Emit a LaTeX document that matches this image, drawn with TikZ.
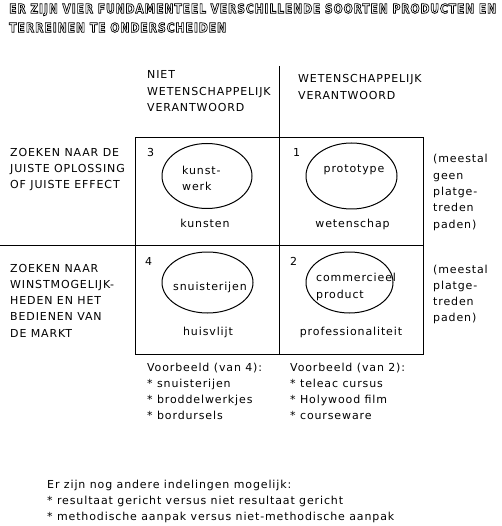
\documentclass[tikz,border=0pt]{standalone}
\usepackage{fontspec}
\setmainfont{DejaVu Sans}[LetterSpace=8]
\newfontfamily\titlefont{DejaVu Sans}[LetterSpace=8]
\usepackage{graphicx}
\usetikzlibrary{shapes.geometric}
\newcommand\outlinetext[1]{\special{pdf:literal direct 1 Tr 0.6 w}#1\special{pdf:literal direct 0 Tr}}
\tikzset{
  txt/.style={anchor=base west, inner sep=0pt, align=left, font=\fontsize{11}{16.3}\selectfont},
  ctr/.style={anchor=base, inner sep=0pt, font=\fontsize{11}{16.3}\selectfont},
  ell/.style={draw, ellipse, line width=1pt, inner sep=0pt},
  grid/.style={line width=1pt},
  ttl/.style={anchor=north west, inner sep=0pt}
}
\begin{document}
\begin{tikzpicture}[x=1pt,y=-1pt]
\fill[white] (0,0) rectangle (501,526);
\useasboundingbox (0,0) rectangle (501,526);
% title
\node[ttl] (t1) at (9,3.5) {\resizebox{487pt}{9.5pt}{\titlefont\bfseries\outlinetext{ER ZIJN VIER FUNDAMENTEEL VERSCHILLENDE SOORTEN PRODUCTEN EN}}};
\node[ttl] (t2) at (9,22.5) {\resizebox{217pt}{9.5pt}{\titlefont\bfseries\outlinetext{TERREINEN TE ONDERSCHEIDEN}}};
% grid
\coordinate (tl) at (135,138);
\coordinate (br) at (423,354);
\coordinate (vt) at (279,66);
\coordinate (vb) at (279,354);
\coordinate (hl) at (0,245);
\coordinate (hr) at (423,245);
\draw[grid] (tl) rectangle (br);
\draw[grid] (vt) -- (vb);
\draw[grid] (hl) -- (hr);
% headers (anchor = baseline of last line)
\node[txt] (h1) at (147,111.5) {NIET\\WETENSCHAPPELIJK\\VERANTWOORD};
\node[txt] (h2) at (298,99.3) {WETENSCHAPPELIJK\\VERANTWOORD};
% row labels
\node[txt] (r1) at (10,189) {ZOEKEN NAAR DE\\JUISTE OPLOSSING\\OF JUISTE EFFECT};
\node[txt] (r2) at (10,337.2) {ZOEKEN NAAR\\WINSTMOGELIJK-\\HEDEN EN HET\\BEDIENEN VAN\\DE MARKT};
% right remarks
\node[txt] (m1) at (433,228.2) {(meestal\\geen\\platge-\\treden\\paden)};
\node[txt] (m2) at (433,321.9) {(meestal\\platge-\\treden\\paden)};
% numbers
\node[txt] (n3) at (147,157) {3};
\node[txt] (n1) at (293,157) {1};
\node[txt] (n4) at (145,265) {4};
\node[txt] (n2) at (290,265) {2};
% ellipses
\node[ell, minimum width=90pt, minimum height=65pt] (e3) at (207,176) {};
\node[ell, minimum width=91pt, minimum height=66pt] (e1) at (351.5,176) {};
\node[ell, minimum width=91pt, minimum height=61pt] (e4) at (207.5,282.5) {};
\node[ell, minimum width=87pt, minimum height=61pt] (e2) at (349.5,282.5) {};
% ellipse texts
\node[txt] (k1) at (182,190.5) {kunst-\\werk};
\node[ctr] (k2) at (354,173) {prototype};
\node[ctr] (k3) at (210,290) {snuisterijen};
\node[txt] (k4) at (316,298) {commercieel\\product};
% cell labels
\node[ctr] (c3) at (205,228) {kunsten};
\node[ctr] (c1) at (352.5,228) {wetenschap};
\node[ctr] (c4) at (208,335) {huisvlijt};
\node[ctr] (c2) at (351,335) {professionaliteit};
% examples
\node[txt] (v1) at (147,419.9) {Voorbeeld (van 4):\\* snuisterijen\\* broddelwerkjes\\* bordursels};
\node[txt] (v2) at (290,419.9) {Voorbeeld (van 2):\\* teleac cursus\\* Holywood film\\* courseware};
% bottom note
\node[txt] (b1) at (47,520.6) {Er zijn nog andere indelingen mogelijk:\\* resultaat gericht versus niet resultaat gericht\\* methodische aanpak versus niet-methodische aanpak};
\end{tikzpicture}
\end{document}
